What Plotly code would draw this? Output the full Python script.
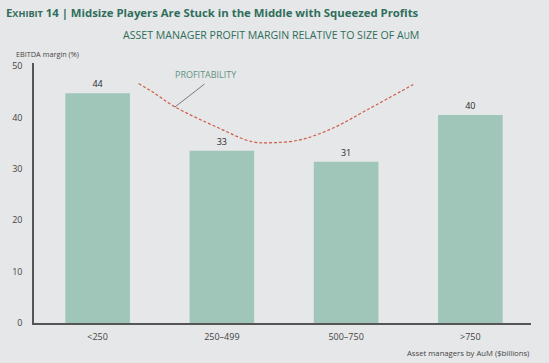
import plotly.graph_objects as go

categories = ["<250", "250–499", "500–750", ">750"]
margin_values = [44.7, 33.5, 31.4, 40.5]
margin_labels = ["44", "33", "31", "40"]
y_ticks = [0, 10, 20, 30, 40, 50]

# profitability curve (category position, margin %)
curve_x = [0.33, 0.44, 0.62, 0.97, 1.24, 1.42, 1.64, 1.90, 2.17, 2.54]
curve_y = [46.6, 45.0, 42.1, 38.0, 35.3, 35.1, 35.7, 38.0, 41.5, 46.4]

BG = "#e6e7e8"
GREEN = "#2f6e5c"
BAR = "#9fc6b8"
FONT = "Open Sans"

PL, PW, PB, PH = 31.5, 500.0, 323.0, 260.0


def px(x):
    return (x - PL) / PW


def py(y):
    return (PB - y) / PH


fig = go.Figure()
fig.add_trace(go.Bar(
    x=list(range(len(categories))), y=margin_values, width=0.52,
    marker=dict(color=BAR, line=dict(width=0)),
    text=margin_labels, textposition="outside", cliponaxis=False,
    textfont=dict(size=9, color="#2a2a2a", family=FONT),
    hoverinfo="skip",
))
fig.add_trace(go.Scatter(
    x=curve_x, y=curve_y, mode="lines",
    line=dict(color="#cf5a45", width=1.2, dash="3px,2px", shape="spline"),
    hoverinfo="skip",
))

fig.add_shape(type="line", x0=0.62, y0=42.0, x1=0.86, y1=46.5,
              line=dict(color="#7a7a7a", width=1), xref="x", yref="y")
fig.add_annotation(x=0.87, y=48.3, xref="x", yref="y", text="PROFITABILITY",
                   showarrow=False, font=dict(size=9, color="#5e9186", family=FONT))

fig.add_annotation(x=px(1), y=py(12), xref="paper", yref="paper", xanchor="left",
                   yanchor="middle", showarrow=False,
                   text="<b>E<span style='font-size:9.1px'>XHIBIT</span> 14 | Midsize Players Are Stuck in the Middle with Squeezed Profits</b>",
                   font=dict(size=11.35, color=GREEN, family=FONT))
fig.add_annotation(x=px(270), y=py(35), xref="paper", yref="paper", xanchor="center",
                   yanchor="middle", showarrow=False,
                   text="ASSET MANAGER PROFIT MARGIN RELATIVE TO SIZE OF A<span style='font-size:8.4px'>U</span>M",
                   font=dict(size=10.6, color=GREEN, family=FONT))
fig.add_annotation(x=px(11), y=py(54), xref="paper", yref="paper", xanchor="left",
                   yanchor="middle", showarrow=False, text="EBITDA margin (%)",
                   font=dict(size=7.3, color="#444444", family=FONT))
fig.add_annotation(x=px(532), y=py(352.5), xref="paper", yref="paper", xanchor="right",
                   yanchor="middle", showarrow=False, text="Asset managers by AuM ($billions)",
                   font=dict(size=7.7, color="#444444", family=FONT))

fig.update_layout(
    width=549, height=363,
    margin=dict(l=31.5, r=17.5, t=63, b=40),
    paper_bgcolor=BG, plot_bgcolor=BG,
    showlegend=False,
    xaxis=dict(range=[-0.512, 3.488], tickvals=list(range(len(categories))), ticktext=categories,
               showgrid=False, zeroline=False, showline=True, linecolor="#555555", linewidth=1.5,
               ticks="", ticklabelstandoff=4,
               tickfont=dict(size=9, color="#444444", family=FONT), fixedrange=True),
    yaxis=dict(range=[0, 50.6], tickvals=y_ticks, showgrid=False, zeroline=False,
               showline=True, linecolor="#555555", linewidth=1.5, ticks="", ticklabelstandoff=8,
               tickfont=dict(size=9, color="#444444", family=FONT), fixedrange=True),
)

fig.write_html("out.html", config={"displayModeBar": False},
               post_script="document.body.style.margin='0';document.body.style.background='#e6e7e8';")
